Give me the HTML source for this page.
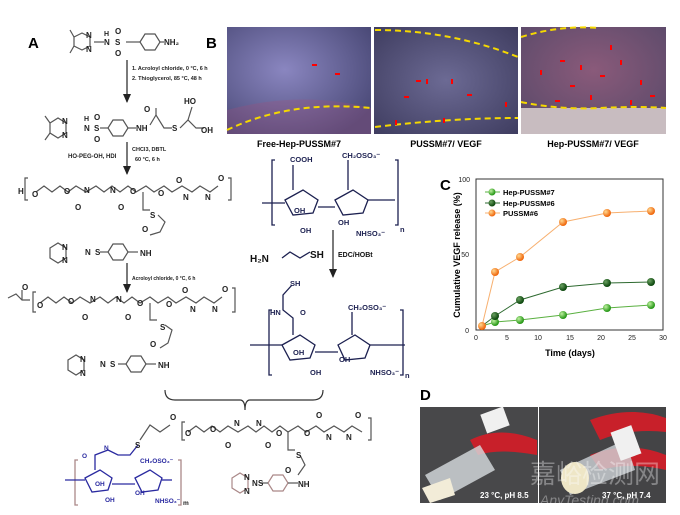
<!DOCTYPE html>
<html><head><style>
body{margin:0;background:#fff;width:680px;height:515px;overflow:hidden}
svg{display:block;font-family:"Liberation Sans",Arial,sans-serif}
.b{font-weight:bold}
</style></head><body>
<svg width="680" height="515" viewBox="0 0 680 515">
<defs>
<radialGradient id="mic1" cx="40%" cy="40%" r="70%"><stop offset="0" stop-color="#8a86c0"/><stop offset="1" stop-color="#4b4a78"/></radialGradient>
<radialGradient id="mic2" cx="50%" cy="50%" r="70%"><stop offset="0" stop-color="#6c6a94"/><stop offset="1" stop-color="#3f3d60"/></radialGradient>
<radialGradient id="mic3" cx="50%" cy="40%" r="70%"><stop offset="0" stop-color="#8a5a7a"/><stop offset="1" stop-color="#5a4a6a"/></radialGradient>
<radialGradient id="gb" cx="35%" cy="35%" r="60%"><stop offset="0" stop-color="#bff0a0"/><stop offset="1" stop-color="#2a9a1a"/></radialGradient>
<radialGradient id="db" cx="35%" cy="35%" r="60%"><stop offset="0" stop-color="#6aa060"/><stop offset="1" stop-color="#0f4a10"/></radialGradient>
<radialGradient id="ob" cx="35%" cy="35%" r="60%"><stop offset="0" stop-color="#ffd890"/><stop offset="1" stop-color="#f06a10"/></radialGradient>
<marker id="ar" markerWidth="10" markerHeight="10" refX="8" refY="4" orient="auto" markerUnits="userSpaceOnUse"><path d="M0,0 L9,4 L0,8z" fill="#222"/></marker>
</defs>

<text x="28" y="48" font-size="15" class="b">A</text>
<text x="206" y="48" font-size="15" class="b">B</text>
<text x="440" y="190" font-size="15" class="b">C</text>
<text x="420" y="400" font-size="15" class="b">D</text>

<rect x="227" y="27" width="144" height="107" fill="url(#mic1)"/>
<path d="M227,110 Q300,90 371,108 L371,134 L227,134z" fill="#a0507a" opacity="0.3"/>
<path d="M227,130 Q290,100 371,108" stroke="#f5d800" stroke-width="2" stroke-dasharray="6,4" fill="none"/>
<rect x="374" y="27" width="144" height="107" fill="url(#mic2)"/>
<path d="M375,30 Q450,30 518,57" stroke="#f5d800" stroke-width="2" stroke-dasharray="6,4" fill="none"/>
<path d="M375,127 Q450,118 518,118" stroke="#f5d800" stroke-width="2" stroke-dasharray="6,4" fill="none"/>
<rect x="521" y="27" width="145" height="107" fill="url(#mic3)"/>
<rect x="521" y="108" width="145" height="26" fill="#c8bcc0"/>
<path d="M521,37 Q560,25 600,28" stroke="#f5d800" stroke-width="2" stroke-dasharray="6,4" fill="none"/>
<path d="M521,102 Q560,110 600,108 Q640,106 666,108" stroke="#f5d800" stroke-width="2" stroke-dasharray="6,4" fill="none"/>
<g fill="#f00">
<rect x="335" y="73" width="5" height="2"/><rect x="312" y="64" width="5" height="2"/>
<rect x="416" y="80" width="5" height="2"/><rect x="426" y="79" width="2" height="5"/><rect x="451" y="79" width="2" height="5"/><rect x="404" y="96" width="5" height="2"/><rect x="467" y="94" width="5" height="2"/><rect x="505" y="102" width="2" height="5"/><rect x="443" y="118" width="2" height="5"/><rect x="395" y="120" width="2" height="5"/>
<rect x="540" y="70" width="2" height="5"/><rect x="560" y="60" width="5" height="2"/><rect x="580" y="65" width="2" height="5"/><rect x="600" y="75" width="5" height="2"/><rect x="620" y="60" width="2" height="5"/><rect x="640" y="80" width="2" height="5"/><rect x="555" y="100" width="5" height="2"/><rect x="590" y="95" width="2" height="5"/><rect x="630" y="100" width="2" height="5"/><rect x="610" y="45" width="2" height="5"/><rect x="650" y="95" width="5" height="2"/><rect x="570" y="85" width="5" height="2"/>
</g>
<text x="299" y="147" font-size="9" class="b" text-anchor="middle">Free-Hep-PUSSM#7</text>
<text x="446" y="147" font-size="9" class="b" text-anchor="middle">PUSSM#7/ VEGF</text>
<text x="593" y="147" font-size="9" class="b" text-anchor="middle">Hep-PUSSM#7/ VEGF</text>

<rect x="476" y="179" width="187" height="151" fill="none" stroke="#333" stroke-width="1"/>
<g font-size="7" fill="#222" text-anchor="middle">
<text x="476" y="340">0</text><text x="507" y="340">5</text><text x="538" y="340">10</text><text x="570" y="340">15</text><text x="601" y="340">20</text><text x="632" y="340">25</text><text x="663" y="340">30</text>
<text x="469" y="333" text-anchor="end">0</text><text x="469" y="257" text-anchor="end">50</text><text x="470" y="182" text-anchor="end">100</text>
</g>
<text x="570" y="356" font-size="9" class="b" text-anchor="middle">Time (days)</text>
<text transform="translate(460,255) rotate(-90)" font-size="9" class="b" text-anchor="middle">Cumulative VEGF release (%)</text>
<polyline points="482,326 495,322 520,320 563,315 607,308 651,305" fill="none" stroke="#5ab040" stroke-width="1"/>
<polyline points="482,326 495,316 520,300 563,287 607,283 651,282" fill="none" stroke="#2e6a30" stroke-width="1"/>
<polyline points="482,326 495,272 520,257 563,222 607,213 651,211" fill="none" stroke="#f7b070" stroke-width="1"/>
<g fill="url(#gb)"><circle cx="495" cy="322" r="4"/><circle cx="520" cy="320" r="4"/><circle cx="563" cy="315" r="4"/><circle cx="607" cy="308" r="4"/><circle cx="651" cy="305" r="4"/></g>
<g fill="url(#db)"><circle cx="495" cy="316" r="4"/><circle cx="520" cy="300" r="4"/><circle cx="563" cy="287" r="4"/><circle cx="607" cy="283" r="4"/><circle cx="651" cy="282" r="4"/></g>
<g fill="url(#ob)"><circle cx="482" cy="326" r="4"/><circle cx="495" cy="272" r="4"/><circle cx="520" cy="257" r="4"/><circle cx="563" cy="222" r="4"/><circle cx="607" cy="213" r="4"/><circle cx="651" cy="211" r="4"/></g>
<g font-size="7.5" class="b"><line x1="485" y1="192" x2="500" y2="192" stroke="#5ab040"/><circle cx="492" cy="192" r="3.5" fill="url(#gb)"/><text x="503" y="195">Hep-PUSSM#7</text>
<line x1="485" y1="203" x2="500" y2="203" stroke="#2e6a30"/><circle cx="492" cy="203" r="3.5" fill="url(#db)"/><text x="503" y="206">Hep-PUSSM#6</text>
<line x1="485" y1="213" x2="500" y2="213" stroke="#f7b070"/><circle cx="492" cy="213" r="3.5" fill="url(#ob)"/><text x="503" y="216">PUSSM#6</text></g>

<rect x="420" y="407" width="118" height="96" fill="#48484a"/>
<rect x="539" y="407" width="127" height="96" fill="#444446"/>
<path d="M470,440 Q500,425 537,440 L537,455 Q500,448 478,455z" fill="#c8202a"/>
<path d="M425,475 L480,445 L495,470 L440,500z" fill="#d8dde0" opacity="0.8"/>
<path d="M422,488 L450,478 L455,495 L430,503z" fill="#f2ecd8"/>
<rect x="483" y="410" width="24" height="20" fill="#f0f0f0" transform="rotate(-20 495 420)"/>
<path d="M590,420 Q630,405 666,418 L666,432 Q630,428 600,440z" fill="#c8202a"/>
<path d="M590,455 Q630,440 666,455 L666,470 Q630,462 600,470z" fill="#c8202a"/>
<path d="M560,470 L625,440 L635,470 L570,495z" fill="#cfd4d8" opacity="0.8"/>
<ellipse cx="575" cy="478" rx="14" ry="16" fill="#eee6c6"/>
<rect x="615" y="428" width="22" height="30" fill="#f0f0f0" transform="rotate(-20 626 443)"/>
<text x="480" y="498" font-size="8" fill="#fff" class="b">23 °C, pH 8.5</text>
<text x="602" y="498" font-size="8" fill="#fff" class="b">37 °C, pH 7.4</text>
<text x="530" y="483" font-size="26" fill="#fff" opacity="0.35" font-family="Noto Sans CJK SC,sans-serif">嘉峪检测网</text>
<text x="540" y="505" font-size="14" fill="#fff" opacity="0.35" font-style="italic">AnyTesting.com</text>

<g stroke="#555" stroke-width="1.2" fill="none">
<polygon points="74,37 82,33 90,37 90,46 82,50 74,46"/><line x1="74" y1="37" x2="70" y2="30"/><line x1="74" y1="46" x2="70" y2="53"/>
<polygon points="140,42 145,34 155,34 160,42 155,50 145,50"/>
<line x1="94" y1="42" x2="104" y2="42"/><line x1="126" y1="42" x2="140" y2="42"/><line x1="160" y1="42" x2="164" y2="42"/>
<polygon points="50,123 58,118 66,123 66,133 58,138 50,133"/><line x1="50" y1="123" x2="45" y2="116"/><line x1="50" y1="133" x2="45" y2="140"/>
<polygon points="108,128 113,120 123,120 128,128 123,136 113,136"/>
<line x1="100" y1="128" x2="108" y2="128"/><line x1="128" y1="128" x2="136" y2="128"/>
<polyline points="150,125 156,115 164,128 172,128"/><line x1="156" y1="115" x2="156" y2="108"/>
<polyline points="180,128 188,120 196,128 204,128"/><line x1="188" y1="120" x2="192" y2="107"/>
<path d="M28,178 L25,178 L25,200 L28,200 M228,178 L231,178 L231,200 L228,200"/>
<polyline points="36,192 44,186 52,192 60,186 68,192 76,186 86,192 96,186 104,192 112,186 120,192 128,186 136,192 146,186 154,192 164,186 172,192 182,186 192,192 200,186 210,192 218,186"/>
<polyline points="143,192 143,210 150,210"/><polyline points="158,215 165,222 160,232 150,235"/>
<polygon points="50,248 58,243 66,248 66,258 58,263 50,258"/>
<polygon points="108,252 113,244 123,244 128,252 123,260 113,260"/>
<line x1="100" y1="252" x2="108" y2="252"/><line x1="128" y1="252" x2="138" y2="252"/>
<path d="M36,292 L33,292 L33,312 L36,312 M232,288 L235,288 L235,312 L232,312"/>
<polyline points="8,298 16,294 22,300 30,300"/><line x1="22" y1="300" x2="22" y2="290"/>
<polyline points="40,303 48,297 56,303 64,297 72,303 80,297 90,303 100,297 108,303 116,297 124,303 132,297 140,303 150,297 158,303 168,297 176,303 186,297 196,303 204,297 214,303 222,297"/>
<polyline points="150,303 150,320 157,320"/><polyline points="165,325 172,330 168,343 160,348"/>
<polygon points="68,360 76,355 84,360 84,370 76,375 68,370"/>
<polygon points="126,364 131,356 141,356 146,364 141,372 131,372"/>
<line x1="118" y1="364" x2="126" y2="364"/><line x1="146" y1="364" x2="156" y2="364"/>
<path d="M165,390 Q165,400 175,400 L240,400 Q245,400 245,410 Q245,400 250,400 L313,400 Q323,400 323,390" stroke="#333"/>
<path d="M185,422 L182,422 L182,440 L185,440 M368,418 L371,418 L371,440 L368,440"/>
<polyline points="188,432 196,426 204,432 212,426 220,432 228,426 238,432 248,426 256,432 264,426 272,432 280,426 288,432 298,426 306,432 316,426 324,432 334,426 344,432 352,426 362,432"/>
<polyline points="170,425 160,432 150,425 140,440"/><polyline points="288,432 288,450 295,450"/><polyline points="300,455 305,465 298,475"/>
<polygon points="232,478 240,473 248,478 248,488 240,493 232,488" stroke="#a88"/>
<polygon points="268,483 273,475 283,475 288,483 283,491 273,491" stroke="#a88"/>
<line x1="260" y1="483" x2="268" y2="483"/><line x1="288" y1="483" x2="298" y2="483"/>
</g>
<g stroke="#2a2aa0" stroke-width="1.3" fill="none">
<path d="M78,460 L75,460 L75,505 L78,505 M178,460 L181,460 L181,505 L178,505" stroke="#a88"/>
<polygon points="85,478 100,470 112,478 108,490 92,492"/><polygon points="135,478 150,470 162,478 158,490 142,492"/>
<line x1="65" y1="480" x2="85" y2="480"/><line x1="112" y1="484" x2="135" y2="484"/><line x1="162" y1="480" x2="172" y2="480"/>
<polyline points="95,470 95,455 108,450 118,455 130,455 138,445"/>
</g>
<g stroke="#1c2050" stroke-width="1.3" fill="none">
<path d="M275,160 L272,160 L272,225 L275,225 M395,160 L398,160 L398,225 L395,225"/>
<polygon points="285,200 303,190 318,200 313,213 293,215"/><polygon points="335,200 353,190 368,200 363,213 343,215"/>
<line x1="262" y1="203" x2="285" y2="203"/><line x1="318" y1="207" x2="335" y2="207"/><line x1="368" y1="200" x2="395" y2="200"/>
<line x1="293" y1="190" x2="293" y2="165"/><line x1="348" y1="190" x2="348" y2="160"/>
<path d="M272,310 L269,310 L269,375 L272,375 M400,310 L403,310 L403,375 L400,375"/>
<polygon points="282,345 300,335 315,345 310,358 290,360"/><polygon points="338,345 355,335 370,345 365,358 345,360"/>
<line x1="250" y1="345" x2="282" y2="345"/><line x1="315" y1="352" x2="338" y2="352"/><line x1="370" y1="345" x2="405" y2="345"/>
<polyline points="293,335 293,318 283,310 283,295 292,285"/><line x1="352" y1="335" x2="352" y2="312"/>
<polyline points="282,258 290,252 300,258 310,252"/>
</g>
<g stroke="#222" stroke-width="1.2">
<line x1="127" y1="60" x2="127" y2="102" marker-end="url(#ar)"/>
<line x1="127" y1="142" x2="127" y2="174" marker-end="url(#ar)"/>
<line x1="127" y1="263" x2="127" y2="292" marker-end="url(#ar)"/>
<line x1="333" y1="230" x2="333" y2="277" marker-end="url(#ar)"/>
</g>
<g font-size="8" class="b" fill="#222">
<text x="86" y="38">N</text><text x="86" y="52">N</text><text x="104" y="45">N</text><text x="104" y="36" font-size="7">H</text><text x="115" y="45">S</text><text x="115" y="34">O</text><text x="115" y="56">O</text><text x="164" y="45">NH₂</text>
<text x="132" y="70" font-size="5.5">1. Acroloyl chloride, 0 °C, 6 h</text><text x="132" y="80" font-size="5.5">2.  Thioglycerol, 85 °C, 48 h</text>
<text x="62" y="124">N</text><text x="62" y="138">N</text><text x="84" y="131">N</text><text x="84" y="121" font-size="7">H</text><text x="94" y="131">S</text><text x="94" y="120">O</text><text x="94" y="142">O</text><text x="136" y="131">NH</text><text x="144" y="112">O</text><text x="172" y="131">S</text><text x="184" y="104">HO</text><text x="201" y="133">OH</text>
<text x="68" y="158" font-size="6">HO-PEG-OH, HDI</text><text x="132" y="151" font-size="5.5">CHCl3, DBTL</text><text x="135" y="161" font-size="5.5">60 °C, 6 h</text>
<text x="18" y="194">H</text><text x="32" y="197">O</text><text x="64" y="194">O</text><text x="84" y="193">N</text><text x="110" y="193">N</text><text x="75" y="210">O</text><text x="118" y="210">O</text><text x="130" y="194">O</text><text x="158" y="196">O</text><text x="176" y="183">O</text><text x="183" y="200">N</text><text x="205" y="200">N</text><text x="218" y="181">O</text>
<text x="150" y="218">S</text><text x="142" y="232">O</text>
<text x="62" y="250">N</text><text x="62" y="263">N</text><text x="85" y="255">N</text><text x="95" y="255">S</text><text x="140" y="256">NH</text>
<text x="132" y="280" font-size="5">Acroloyl chloride, 0 °C, 6 h</text>
<text x="22" y="290">O</text><text x="37" y="308">O</text><text x="68" y="304">O</text><text x="90" y="302">N</text><text x="116" y="302">N</text><text x="82" y="320">O</text><text x="125" y="320">O</text><text x="137" y="306">O</text><text x="166" y="307">O</text><text x="182" y="293">O</text><text x="190" y="312">N</text><text x="212" y="312">N</text><text x="222" y="292">O</text>
<text x="160" y="330">S</text><text x="150" y="347">O</text>
<text x="80" y="362">N</text><text x="80" y="376">N</text><text x="100" y="367">N</text><text x="110" y="367">S</text><text x="158" y="368">NH</text>
<text x="170" y="420">O</text><text x="185" y="436">O</text><text x="210" y="432">O</text><text x="234" y="426">N</text><text x="256" y="426">N</text><text x="225" y="448">O</text><text x="265" y="448">O</text><text x="276" y="436">O</text><text x="304" y="436">O</text><text x="316" y="418">O</text><text x="326" y="440">N</text><text x="346" y="440">N</text><text x="355" y="418">O</text>
<text x="135" y="448">S</text><text x="296" y="458">S</text><text x="285" y="473">O</text>
<text x="244" y="480">N</text><text x="244" y="494">N</text><text x="252" y="486">N</text><text x="258" y="486">S</text><text x="298" y="487">NH</text>
</g>
<g font-size="7.5" class="b" fill="#1c2050">
<text x="290" y="162">COOH</text><text x="342" y="158">CH₂OSO₃⁻</text><text x="294" y="213">OH</text><text x="300" y="233">OH</text><text x="338" y="225">OH</text><text x="356" y="236">NHSO₃⁻</text><text x="400" y="232">n</text>
<text x="250" y="262" font-size="10" fill="#111">H₂N</text><text x="310" y="258" font-size="10" fill="#111">SH</text><text x="338" y="257" font-size="7" fill="#111">EDC/HOBt</text>
<text x="290" y="286">SH</text><text x="270" y="315">HN</text><text x="300" y="315">O</text><text x="348" y="310">CH₂OSO₃⁻</text><text x="293" y="355">OH</text><text x="310" y="375">OH</text><text x="339" y="362">OH</text><text x="370" y="375">NHSO₃⁻</text><text x="405" y="378">n</text>
</g>
<g font-size="6.5" class="b" fill="#2a2aa0">
<text x="82" y="458">O</text><text x="104" y="450">N</text><text x="140" y="463">CH₂OSO₃⁻</text><text x="95" y="486">OH</text><text x="105" y="502">OH</text><text x="135" y="495">OH</text><text x="155" y="503">NHSO₃⁻</text><text x="183" y="505" fill="#222">m</text>
</g>
</svg>
</body></html>
